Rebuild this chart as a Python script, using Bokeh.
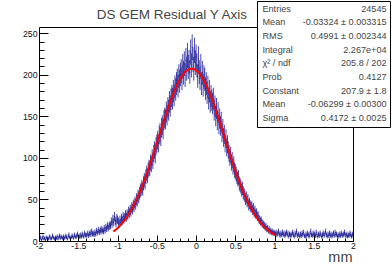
import numpy as np
from bokeh.plotting import figure
from bokeh.models import Label, BoxAnnotation, FixedTicker, Range1d, CustomJSTickFormatter, ColumnDataSource
from bokeh.embed import file_html
from bokeh.resources import INLINE

# ---- data ----
x_min, x_max, n_bins = -2.0, 2.0, 400
y_max = 257.5
counts = [
    3, 5, 2, 4, 6, 3, 4, 2, 5, 4,        # -2.0 .. -1.9
    4, 3, 6, 5, 3, 4, 7, 5, 4, 3,
    5, 4, 6, 3, 5, 7, 4, 6, 5, 4,
    6, 4, 5, 7, 5, 3, 6, 8, 5, 4,
    5, 7, 6, 4, 8, 6, 5, 7, 9, 6,        # -1.6 .. -1.5
    7, 5, 8, 6, 9, 7, 6, 10, 8, 7,
    8, 10, 7, 9, 11, 8, 12, 9, 10, 8,
    11, 9, 13, 10, 12, 14, 11, 13, 15, 12,
    14, 12, 16, 13, 17, 15, 19, 16, 18, 20,
    19, 24, 21, 27, 23, 30, 25, 22, 28, 26,   # -1.1 .. -1.0
    24, 21, 26, 23, 28, 25, 30, 27, 29, 32,
    29, 33, 31, 36, 34, 38, 36, 41, 39, 44,
    42, 47, 45, 51, 49, 55, 53, 58, 61, 63,
    66, 63, 70, 74, 71, 78, 82, 79, 86, 89,
    88, 95, 93, 101, 97, 106, 110, 104, 115, 118,   # -0.6 .. -0.5
    122, 118, 128, 131, 126, 137, 140, 135, 146, 149,
    147, 156, 152, 161, 158, 168, 163, 171, 175, 172,
    181, 176, 186, 183, 190, 194, 187, 199, 193, 201,
    205, 196, 211, 203, 214, 200, 218, 208, 224, 210,
    216, 204, 228, 212, 234, 219, 208, 230, 215, 222,   # -0.1 .. 0.0
    212, 199, 220, 204, 196, 211, 190, 203, 188, 198,
    195, 184, 190, 179, 186, 172, 181, 168, 175, 170,
    166, 172, 158, 163, 151, 160, 146, 155, 141, 148,
    139, 144, 131, 136, 125, 129, 118, 124, 113, 117,
    110, 106, 101, 104, 95, 98, 90, 93, 86, 84,       # 0.4 .. 0.5
    81, 78, 75, 77, 70, 68, 66, 62, 64, 59,
    57, 55, 51, 53, 48, 50, 44, 46, 43, 41,
    42, 38, 40, 35, 37, 33, 34, 30, 31, 27,
    26, 24, 25, 22, 21, 20, 19, 17, 18, 15,
    16, 13, 15, 12, 13, 11, 12, 10, 11, 10,          # 0.9 .. 1.0
    9, 11, 8, 10, 12, 9, 7, 10, 8, 11,
    8, 10, 7, 9, 11, 8, 10, 6, 9, 8,
    7, 9, 11, 8, 6, 10, 8, 12, 7, 9,
    8, 6, 9, 7, 10, 8, 11, 7, 6, 9,
    7, 10, 8, 6, 9, 12, 8, 7, 10, 8,                 # 1.4 .. 1.5
    9, 7, 11, 8, 6, 9, 7, 10, 8, 6,
    8, 10, 7, 9, 12, 8, 6, 9, 7, 10,
    7, 9, 6, 8, 10, 7, 11, 8, 9, 6,
    8, 6, 9, 7, 10, 8, 7, 9, 11, 8,
    7, 9, 6, 8, 7, 10, 8, 6, 9, 7,                   # 1.9 .. 2.0
]

fit_constant = 207.9
fit_mean = -0.06299
fit_sigma = 0.4172
fit_lo, fit_hi = -1.06, 1.0

title_text = "DS GEM Residual Y Axis"
x_axis_title = "mm"
x_ticks = [-2, -1.5, -1, -0.5, 0, 0.5, 1, 1.5, 2]
y_ticks = [0, 50, 100, 150, 200, 250]
stat_names = ["Entries", "Mean", "RMS", "Integral", "\u03c7\u00b2 / ndf", "Prob",
              "Constant", "Mean", "Sigma"]
stat_values = ["24545", "-0.03324 \u00b1 0.003315", "0.4991 \u00b1 0.002344", "2.267e+04",
               "205.8 / 202", "0.4127", "207.9 \u00b1 1.8", "-0.06299 \u00b1 0.00300",
               "0.4172 \u00b1 0.0025"]

# ---- layout (page pixels) ----
W, H = 392, 267
PAGE_OFF = 0
FRAME_L, FRAME_B = 39, 241          # page px of (x_min, 0)
PX_MM = 78.5
PX_CNT = 214.0 / y_max

x_lo = x_min - (FRAME_L - PAGE_OFF) / PX_MM
x_hi = x_min + (PAGE_OFF + W - FRAME_L) / PX_MM
y_hi = (FRAME_B - PAGE_OFF) / PX_CNT
y_lo = -(PAGE_OFF + H - FRAME_B) / PX_CNT

def xd(px):
    return x_min + (px - FRAME_L) / PX_MM

def yd(py):
    return (FRAME_B - py) / PX_CNT

# ---- derived ----
counts_a = np.array(counts, dtype=float)
bw = (x_max - x_min) / n_bins
lo = x_min + bw * np.arange(n_bins)
hi = lo + bw
mid = lo + bw / 2
err = np.sqrt(counts_a)
src = ColumnDataSource(dict(lo=lo, hi=hi, mid=mid, y=counts_a,
                            ylo=counts_a - err, yhi=counts_a + err))

fx = np.linspace(fit_lo, fit_hi, 300)
fy = fit_constant * np.exp(-0.5 * ((fx - fit_mean) / fit_sigma) ** 2)

FONT = "Liberation Sans"

p = figure(width=W, height=H, x_range=Range1d(x_lo, x_hi), y_range=Range1d(y_lo, y_hi),
           output_backend="svg", toolbar_location=None, min_border=0)
p.xgrid.visible = False
p.ygrid.visible = False
p.outline_line_color = None
p.background_fill_color = "white"
p.border_fill_color = "white"

p.xaxis.fixed_location = 0
p.yaxis.fixed_location = x_min

fmt = CustomJSTickFormatter(code="return String(tick)")
x_minor = [round(v, 2) for v in np.arange(x_min, x_max + 1e-9, 0.1)]
y_minor = list(range(0, 251, 10))
for ax, ticks, minor, tin, tmin in ((p.xaxis[0], x_ticks, x_minor, 6, 3),
                                    (p.yaxis[0], y_ticks, y_minor, 9, 5)):
    ax.ticker = FixedTicker(ticks=ticks, minor_ticks=minor)
    ax.formatter = fmt
    ax.major_tick_in = tin
    ax.major_tick_out = 0
    ax.minor_tick_in = tmin
    ax.minor_tick_out = 0
    ax.axis_line_color = None
    ax.major_tick_line_color = "black"
    ax.minor_tick_line_color = "black"
    ax.major_label_text_font = FONT
    ax.major_label_text_font_size = "8.7px"
    ax.major_label_text_color = "#111111"
p.xaxis.major_label_standoff = 1
p.yaxis.major_label_standoff = 2

blue = "#0c0c8c"
p.segment(x0="mid", y0="ylo", x1="mid", y1="yhi", source=src, line_color=blue,
          line_width=1, line_alpha=0.75)
p.segment(x0="lo", y0="y", x1="hi", y1="y", source=src, line_color=blue,
          line_width=1, line_alpha=0.9)
p.line(fx, fy, line_color="red", line_width=2)

# frame box
p.quad(left=[x_min], right=[x_max], bottom=[0], top=[y_max], fill_color=None,
       line_color="black", line_width=1)

p.add_layout(Label(x=xd(172), y=yd(14), text=title_text, text_align="center",
                   text_baseline="middle", text_font=FONT, text_font_size="13.5px"))
p.add_layout(Label(x=xd(352), y=yd(256), text=x_axis_title, text_align="right",
                   text_baseline="middle", text_font=FONT, text_font_size="14.5px"))

p.add_layout(BoxAnnotation(left=xd(257), right=xd(390), top=yd(1), bottom=yd(127),
                           fill_color="white", fill_alpha=1.0, line_color="black",
                           line_width=1, line_alpha=1.0))
for i, (nm, vv) in enumerate(zip(stat_names, stat_values)):
    yy = yd(8 + 13.7 * i)
    p.add_layout(Label(x=xd(262), y=yy, text=nm, text_align="left", text_baseline="middle",
                       text_font=FONT, text_font_size="9.1px"))
    p.add_layout(Label(x=xd(386), y=yy, text=vv, text_align="right", text_baseline="middle",
                       text_font=FONT, text_font_size="9.1px"))

open("out.html", "w").write(file_html(p, INLINE))
